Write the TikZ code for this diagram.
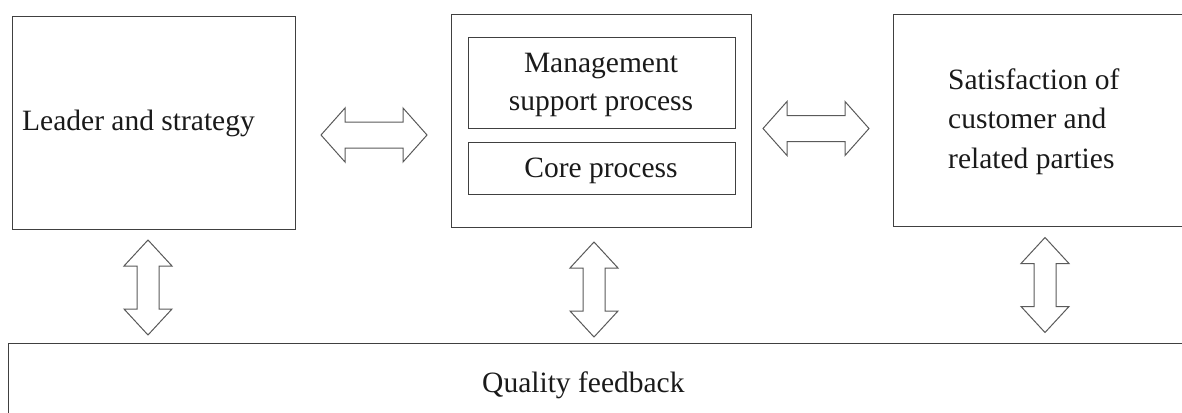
\documentclass[tikz,border=0pt]{standalone}
\usepackage{fontspec}
\setmainfont{Liberation Serif}
\definecolor{boxgray}{HTML}{404040}
\definecolor{arrowgray}{HTML}{5A5A5A}
\definecolor{ink}{HTML}{1A1A1A}
\tikzset{
  box/.style={draw=boxgray, line width=1.2pt, inner sep=0pt, anchor=north west},
  label/.style={text=ink, inner sep=0pt, font=\fontsize{29.5pt}{36pt}\selectfont},
  arrowline/.style={draw=arrowgray, line width=1pt, fill=white, line join=miter},
  pics/hdarrow/.style={code={
    \draw[arrowline] (-53,0) -- (-29,-27) -- (-29,-13) -- (29,-13) -- (29,-27)
      -- (53,0) -- (29,27) -- (29,13) -- (-29,13) -- (-29,27) -- cycle;}},
  pics/vdarrow/.style={code={
    \draw[arrowline] (0,-47.5) -- (24,-21.5) -- (11,-21.5) -- (11,21.5) -- (24,21.5)
      -- (0,47.5) -- (-24,21.5) -- (-11,21.5) -- (-11,-21.5) -- (-24,-21.5) -- cycle;}},
}
\begin{document}
\begin{tikzpicture}[x=1pt, y=-1pt]
\useasboundingbox (0,0) rectangle (1182,412);
\clip (0,0) rectangle (1182,412);

% boxes
\node[box, minimum width=283pt, minimum height=213pt] (lead) at (12,16) {};
\node[box, minimum width=300pt, minimum height=213pt] (mid) at (451,14) {};
\node[box, minimum width=267pt, minimum height=91pt] (msp) at (468,37) {};
\node[box, minimum width=267pt, minimum height=52pt] (core) at (468,142) {};
\node[box, minimum width=310pt, minimum height=212pt] (sat) at (893,14) {};
\node[box, minimum width=1200pt, minimum height=120pt] (qual) at (8,343) {};

% texts
\node[label, anchor=base west] (leadtxt) at (22,130) {Leader and strategy};
\node[label, anchor=base] (msp1) at (601,73) {Management};
\node[label, anchor=base] (msp2) at (601,110) {support process};
\node[label, anchor=base] (coretxt) at (601,177) {Core process};
\node[label, anchor=base west] (sat1) at (948,89) {Satisfaction of};
\node[label, anchor=base west] (sat2) at (948,128.5) {customer and};
\node[label, anchor=base west] (sat3) at (948,168) {related parties};
\node[label, anchor=base west] (qualtxt) at (482,392) {Quality feedback};

% two-way arrows
\pic (ha1) at (374,135) {hdarrow};
\pic (ha2) at (816,128.5) {hdarrow};
\pic (va1) at (148,287.5) {vdarrow};
\pic (va2) at (594,289.5) {vdarrow};
\pic (va3) at (1045,285) {vdarrow};
\end{tikzpicture}
\end{document}
